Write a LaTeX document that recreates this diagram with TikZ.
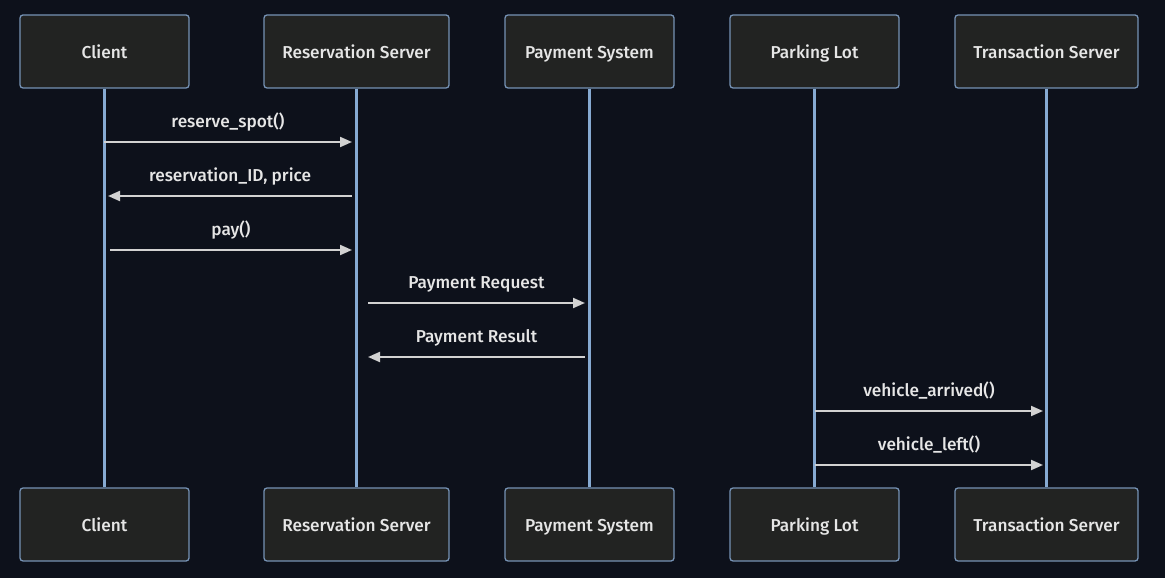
\documentclass[tikz,border=0pt]{standalone}
\usepackage{fontspec}
\setmainfont{Fira Sans}[UprightFont=* Medium]
\usetikzlibrary{arrows.meta}
\definecolor{bgc}{HTML}{0D111B}
\definecolor{boxfill}{HTML}{222322}
\definecolor{boxline}{HTML}{7592B4}
\definecolor{lifec}{HTML}{86AAD2}
\definecolor{msgc}{HTML}{D2D2D2}
\definecolor{txtc}{HTML}{E6E6E6}
\tikzset{
  actor/.style={draw=boxline, fill=boxfill, line width=1.3bp, rounded corners=3bp, minimum height=73bp, text=txtc, font=\fontsize{17.3}{19}\selectfont, inner sep=0pt, text height=16bp, text depth=2bp},
  life/.style={draw=lifec, line width=2.2bp},
  msg/.style={draw=msgc, line width=2bp, -{Triangle[length=12bp,width=10bp]}},
  lbl/.style={text=txtc, font=\fontsize{17.3}{19}\selectfont, above=10bp, inner sep=0pt, text height=12bp, text depth=3.5bp},
}
\begin{document}
\begin{tikzpicture}[x=1bp,y=-1bp]
\useasboundingbox[fill=bgc] (0,0) rectangle (1165,578);
% top actors
\node[actor, minimum width=169bp] (c1) at (104.5,51.5) {Client};
\node[actor, minimum width=185bp] (r1) at (356.5,51.5) {Reservation Server};
\node[actor, minimum width=169bp] (p1) at (589.5,51.5) {Payment System};
\node[actor, minimum width=169bp] (l1) at (814.5,51.5) {Parking Lot};
\node[actor, minimum width=183bp] (t1) at (1046.5,51.5) {Transaction Server};
% bottom actors
\node[actor, minimum width=169bp] (c2) at (104.5,524.5) {Client};
\node[actor, minimum width=185bp] (r2) at (356.5,524.5) {Reservation Server};
\node[actor, minimum width=169bp] (p2) at (589.5,524.5) {Payment System};
\node[actor, minimum width=169bp] (l2) at (814.5,524.5) {Parking Lot};
\node[actor, minimum width=183bp] (t2) at (1046.5,524.5) {Transaction Server};
% lifelines
\draw[life] (c1.south) -- (c2.north);
\draw[life] (r1.south) -- (r2.north);
\draw[life] (p1.south) -- (p2.north);
\draw[life] (l1.south) -- (l2.north);
\draw[life] (t1.south) -- (t2.north);
% message anchor points
\coordinate (m1a) at (104,142); \coordinate (m1b) at (352,142);
\coordinate (m2a) at (352,196); \coordinate (m2b) at (108,196);
\coordinate (m3a) at (110,250); \coordinate (m3b) at (352,250);
\coordinate (m4a) at (368,303); \coordinate (m4b) at (585,303);
\coordinate (m5a) at (585,357); \coordinate (m5b) at (368,357);
\coordinate (m6a) at (815,411); \coordinate (m6b) at (1043,411);
\coordinate (m7a) at (815,465); \coordinate (m7b) at (1043,465);
\draw[msg] (m1a) -- node[lbl]{reserve\_spot()} (m1b);
\draw[msg] (m2a) -- node[lbl]{reservation\_ID, price} (m2b);
\draw[msg] (m3a) -- node[lbl]{pay()} (m3b);
\draw[msg] (m4a) -- node[lbl]{Payment Request} (m4b);
\draw[msg] (m5a) -- node[lbl]{Payment Result} (m5b);
\draw[msg] (m6a) -- node[lbl]{vehicle\_arrived()} (m6b);
\draw[msg] (m7a) -- node[lbl]{vehicle\_left()} (m7b);
\end{tikzpicture}
\end{document}
